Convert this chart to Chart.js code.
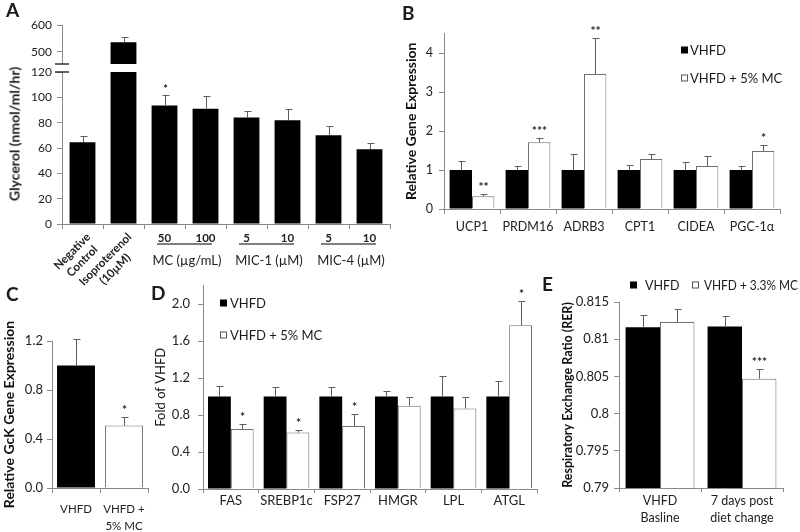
<!DOCTYPE html>
<html>
<head>
<meta charset="utf-8">
<script src="https://cdn.jsdelivr.net/npm/chart.js@4.4.1/dist/chart.umd.min.js"></script>
<style>
  html, body { margin: 0; padding: 0; background: #fff; }
  #fig { position: relative; width: 800px; height: 532px; overflow: hidden; font-family: Lato, "Open Sans", sans-serif; color: #1a1a1a; }
  #fig canvas { position: absolute; left: 0; top: 0; }
  .tag { position: absolute; font-weight: bold; font-size: 19px; line-height: 19px; }
  .ytitle { position: absolute; font-weight: bold; font-size: 14px; white-space: nowrap; transform: translate(-50%, -50%) rotate(-90deg); }
</style>
</head>
<body>
<div id="fig">
  <canvas id="aTop" width="800" height="532"></canvas>
  <canvas id="aLow" width="800" height="532"></canvas>
  <canvas id="chartB" width="800" height="532"></canvas>
  <canvas id="chartC" width="800" height="532"></canvas>
  <canvas id="chartD" width="800" height="532"></canvas>
  <canvas id="chartE" width="800" height="532"></canvas>

  <div class="tag" style="left:6px;top:0px">A</div>
  <div class="tag" style="left:402px;top:3px">B</div>
  <div class="tag" style="left:6px;top:284px">C</div>
  <div class="tag" style="left:151px;top:283px">D</div>
  <div class="tag" style="left:542px;top:274px">E</div>

  <div class="ytitle" style="left:14px;top:134px">Glycerol (nmol/ml/hr)</div>
</div>
<script>
  // Panel A - glycerol release
  const aLabels = [['Negative', 'Control'], ['Isoproterenol', '(10µM)'], '50', '100', '5', '10', '5', '10'];
  const aGroups = ['MC (µg/mL)', 'MIC-1 (µM)', 'MIC-4 (µM)'];
  const aGroupIndex = [[2, 3], [4, 5], [6, 7]];
  const aMeans = [64.5, 536, 93.5, 91, 84, 82, 70, 59];
  const aErr = [5, 20, 8, 10, 5.5, 9, 7.5, 5];
  const aStars = ['', '', '*', '', '', '', '', ''];
  const aTicksLow = [0, 20, 40, 60, 80, 100, 120];
  const aTicksHigh = [500, 600];

  // Panel B - thermogenic genes
  const bGenes = ['UCP1', 'PRDM16', 'ADRB3', 'CPT1', 'CIDEA', 'PGC-1α'];
  const bVhfd = [1, 1, 1, 1, 1, 1];
  const bVhfdErr = [0.23, 0.1, 0.42, 0.13, 0.2, 0.1];
  const bMc = [0.33, 1.71, 3.46, 1.28, 1.1, 1.49];
  const bMcErr = [0.05, 0.12, 0.92, 0.14, 0.26, 0.14];
  const bStars = ['**', '***', '**', '', '', '*'];
  const bTicks = [0, 1, 2, 3, 4];

  // Panel C - GcK
  const cGroups = [['VHFD'], ['VHFD +', '5% MC']];
  const cValues = [1.0, 0.51];
  const cErr = [0.22, 0.07];
  const cStars = ['', '*'];
  const cTicks = [0, 0.4, 0.8, 1.2];

  // Panel D - lipid genes
  const dGenes = ['FAS', 'SREBP1c', 'FSP27', 'HMGR', 'LPL', 'ATGL'];
  const dVhfd = [1, 1, 1, 1, 1, 1];
  const dVhfdErr = [0.11, 0.1, 0.1, 0.06, 0.22, 0.17];
  const dMc = [0.65, 0.61, 0.68, 0.9, 0.87, 1.77];
  const dMcErr = [0.05, 0.03, 0.13, 0.1, 0.12, 0.26];
  const dStars = ['*', '*', '*', '', '', '*'];
  const dTicks = [0, 0.4, 0.8, 1.2, 1.6, 2.0];

  // Panel E - RER
  const eGroups = [['VHFD', 'Basline'], ['7 days post', 'diet change']];
  const eVhfd = [0.8116, 0.8117];
  const eVhfdErr = [0.0016, 0.0014];
  const eMc = [0.8123, 0.8047];
  const eMcErr = [0.0017, 0.0013];
  const eStars = ['', '***'];
  const eTicks = [0.79, 0.795, 0.8, 0.805, 0.81, 0.815];

  const FONT = 'Lato, "Open Sans", sans-serif';
  const AXIS = '#8a8a8a';
  const TXT = '#222';
  const EDGE = '#707070';

  Chart.defaults.font.family = FONT;
  Chart.defaults.color = TXT;
  Chart.defaults.animation = false;
  Chart.defaults.responsive = false;
  Chart.defaults.plugins.tooltip.enabled = false;
  Chart.defaults.plugins.legend.display = false;

  // every canvas covers the page, so padding puts the plot area at page coords
  function frame(L, T, R, B, yW, xH) {
    return { left: L - yW, top: T, right: 800 - R, bottom: 532 - B - xH };
  }

  function yAxis(o) {
    return {
      min: o.min, max: o.max,
      border: { color: AXIS },
      grid: { display: true, drawOnChartArea: false, color: AXIS, tickLength: 5 },
      ticks: { font: { size: o.size }, padding: o.pad, color: TXT, callback: o.fmt || (v => v) },
      afterBuildTicks: s => { s.ticks = o.ticks.map(v => ({ value: v })); },
      afterFit: s => { s.width = o.width; },
      title: o.title ? {
        display: true, text: o.title, color: '#111', padding: 0,
        font: { size: o.titleSize || 13, weight: o.titleWeight || 'bold' }
      } : { display: false }
    };
  }

  function xAxis(o) {
    return {
      display: o.display !== false,
      border: { color: AXIS },
      grid: { display: true, drawOnChartArea: false, color: AXIS, tickLength: o.tl || 5, offset: true },
      ticks: {
        display: o.labels !== false, color: TXT, padding: o.pad || 0,
        font: { size: o.size || 12, lineHeight: o.lh || 1.2 },
        maxRotation: 0, autoSkip: false
      },
      afterFit: s => { s.height = o.height; }
    };
  }

  const errorBars = {
    id: 'errorBars',
    afterDatasetsDraw(chart, args, opts) {
      const { ctx, chartArea: a } = chart;
      const y = chart.scales.y;
      ctx.save();
      if (opts.clip) {
        ctx.beginPath();
        ctx.rect(a.left, a.top, a.right - a.left, a.bottom - a.top);
        ctx.clip();
      }
      ctx.strokeStyle = '#5e5e5e';
      ctx.lineWidth = 1;
      ctx.fillStyle = '#222';
      ctx.font = 'bold ' + (opts.starSize || 12) + 'px ' + FONT;
      ctx.textAlign = 'center';
      ctx.textBaseline = 'bottom';
      chart.data.datasets.forEach((ds, di) => {
        chart.getDatasetMeta(di).data.forEach((bar, i) => {
          const err = ds.errors ? ds.errors[i] : 0;
          const y0 = y.getPixelForValue(ds.data[i]);
          const y1 = Math.round(y.getPixelForValue(ds.data[i] + err)) + 0.5;
          const x = Math.round(bar.x) + 0.5;
          if (err) {
            ctx.beginPath();
            ctx.moveTo(x, y0); ctx.lineTo(x, y1);
            ctx.moveTo(x - 3, y1); ctx.lineTo(x + 4, y1);
            ctx.stroke();
          }
          if (ds.stars && ds.stars[i]) ctx.fillText(ds.stars[i], x, y1 - 1);
        });
      });
      ctx.restore();
    }
  };

  const axisBreak = {
    id: 'axisBreak',
    afterDraw(chart, args, opts) {
      const { ctx, chartArea: a } = chart;
      const yy = opts.edge === 'top' ? a.top : a.bottom;
      ctx.save();
      ctx.strokeStyle = '#333';
      ctx.lineWidth = 1.5;
      ctx.beginPath();
      ctx.moveTo(a.left - 7, yy); ctx.lineTo(a.left + 7, yy);
      ctx.stroke();
      ctx.restore();
    }
  };

  const aXLabels = {
    id: 'aXLabels',
    afterDraw(chart) {
      const { ctx } = chart;
      const x = chart.scales.x;
      const base = chart.chartArea.bottom;
      ctx.save();
      ctx.fillStyle = TXT;
      ctx.font = 'bold 11.5px ' + FONT;
      aLabels.forEach((lab, i) => {
        const cx = x.getPixelForValue(i);
        if (Array.isArray(lab)) {
          ctx.save();
          ctx.translate(cx + 2, base + 7);
          ctx.rotate(-Math.PI / 4);
          const w = Math.max(...lab.map(t => ctx.measureText(t).width));
          ctx.textAlign = 'center';
          ctx.textBaseline = 'top';
          lab.forEach((t, k) => ctx.fillText(t, -w / 2, k * 14));
          ctx.restore();
        } else {
          ctx.textAlign = 'center';
          ctx.textBaseline = 'middle';
          ctx.fillText(lab, cx, base + 14);
        }
      });
      ctx.strokeStyle = '#555';
      ctx.lineWidth = 1.5;
      ctx.font = '13px ' + FONT;
      ctx.textAlign = 'center';
      ctx.textBaseline = 'middle';
      aGroupIndex.forEach(([i0, i1], g) => {
        const c = (x.getPixelForValue(i0) + x.getPixelForValue(i1)) / 2;
        ctx.beginPath();
        ctx.moveTo(c - 28, base + 20); ctx.lineTo(c + 27, base + 20);
        ctx.stroke();
        ctx.fillText(aGroups[g], c + 2, base + 37);
      });
      ctx.restore();
    }
  };

  // small square-key legend built from the dataset labels
  const boxLegend = {
    id: 'boxLegend',
    afterDraw(chart, args, opts) {
      const { ctx } = chart;
      ctx.save();
      ctx.font = (opts.size || 13) + 'px ' + FONT;
      ctx.textBaseline = 'middle';
      chart.data.datasets.forEach((ds, i) => {
        const [bx, by] = opts.at[i];
        ctx.fillStyle = ds.backgroundColor;
        ctx.fillRect(bx, by, 7, 7);
        if (ds.borderWidth) {
          ctx.strokeStyle = '#555';
          ctx.lineWidth = 1;
          ctx.strokeRect(bx + 0.5, by + 0.5, 6, 6);
        }
        ctx.fillStyle = '#1a1a1a';
        ctx.fillText(ds.label, bx + opts.gap[i], by + 4, opts.maxW ? opts.maxW[i] : undefined);
      });
      ctx.restore();
    }
  };

  const flat = l => [].concat(l).join(' ');

  // A, upper part of the broken axis
  new Chart(document.getElementById('aTop'), {
    type: 'bar',
    data: {
      labels: aLabels.map(flat),
      datasets: [{ data: aMeans, errors: aErr, stars: aStars, backgroundColor: '#000', clip: 0, categoryPercentage: 1, barPercentage: 0.63 }]
    },
    options: {
      layout: { padding: frame(62, 25, 390, 64, 40, 0) },
      scales: {
        x: { display: false, afterFit: s => { s.height = 0; } },
        y: yAxis({ min: 455, max: 600, ticks: aTicksHigh, width: 40, size: 12, pad: 5 })
      },
      plugins: { errorBars: { clip: true, starSize: 11 }, axisBreak: { edge: 'bottom' } }
    },
    plugins: [errorBars, axisBreak]
  });

  // A, lower part
  new Chart(document.getElementById('aLow'), {
    type: 'bar',
    data: {
      labels: aLabels.map(flat),
      datasets: [{ data: aMeans, errors: aErr, stars: aStars, backgroundColor: '#000', clip: 0, categoryPercentage: 1, barPercentage: 0.63 }]
    },
    options: {
      layout: { padding: frame(62, 72, 390, 224, 40, 60) },
      scales: {
        x: xAxis({ labels: false, height: 60 }),
        y: yAxis({ min: 0, max: 120, ticks: aTicksLow, width: 40, size: 12, pad: 5 })
      },
      plugins: { errorBars: { clip: true, starSize: 11 }, axisBreak: { edge: 'top' } }
    },
    plugins: [errorBars, axisBreak, aXLabels]
  });

  // B
  new Chart(document.getElementById('chartB'), {
    type: 'bar',
    data: {
      labels: bGenes,
      datasets: [
        { label: 'VHFD', data: bVhfd, errors: bVhfdErr, backgroundColor: '#000', borderWidth: 0, categoryPercentage: 0.8, barPercentage: 1 },
        { label: 'VHFD + 5% MC', data: bMc, errors: bMcErr, stars: bStars, backgroundColor: '#fff', borderColor: EDGE, borderWidth: 1, categoryPercentage: 0.8, barPercentage: 1 }
      ]
    },
    options: {
      layout: { padding: frame(444, 33.5, 780, 209, 41, 30) },
      scales: {
        x: xAxis({ size: 12.5, pad: 5, height: 30 }),
        y: yAxis({ min: 0, max: 4.5, ticks: bTicks, width: 41, size: 12.5, pad: 6, title: 'Relative Gene Expression', titleSize: 14 })
      },
      plugins: { boxLegend: { at: [[681, 46.5], [681, 74.5]], gap: [9, 9] } }
    },
    plugins: [errorBars, boxLegend]
  });

  // C
  new Chart(document.getElementById('chartC'), {
    type: 'bar',
    data: {
      labels: cGroups,
      datasets: [{
        data: cValues, errors: cErr, stars: cStars,
        backgroundColor: ['#000', '#fff'], borderColor: ['#000', EDGE], borderWidth: [0, 1],
        categoryPercentage: 1, barPercentage: 0.79
      }]
    },
    options: {
      layout: { padding: frame(52, 341, 148, 488, 51, 44) },
      scales: {
        x: xAxis({ size: 11.5, lh: 17 / 11.5, pad: 8, height: 44 }),
        y: yAxis({ min: 0, max: 1.2, ticks: cTicks, width: 51, size: 13, pad: 4, fmt: v => v.toFixed(1), title: 'Relative GcK Gene Expression', titleSize: 14 })
      }
    },
    plugins: [errorBars]
  });

  // D
  new Chart(document.getElementById('chartD'), {
    type: 'bar',
    data: {
      labels: dGenes,
      datasets: [
        { label: 'VHFD', data: dVhfd, errors: dVhfdErr, backgroundColor: '#000', borderWidth: 0, categoryPercentage: 0.82, barPercentage: 1 },
        { label: 'VHFD + 5% MC', data: dMc, errors: dMcErr, stars: dStars, backgroundColor: '#fff', borderColor: EDGE, borderWidth: 1, categoryPercentage: 0.82, barPercentage: 1 }
      ]
    },
    options: {
      layout: { padding: frame(203, 285.5, 537, 489, 50, 43) },
      scales: {
        x: xAxis({ size: 13, lh: 1, tl: 4, pad: 1, height: 43 }),
        y: yAxis({ min: 0, max: 2.2, ticks: dTicks, width: 50, size: 13, pad: 8, fmt: v => v.toFixed(1), title: 'Fold of VHFD', titleSize: 13, titleWeight: 'normal' })
      },
      plugins: { boxLegend: { at: [[220, 299.5], [220, 331.5]], gap: [10, 10] } }
    },
    plugins: [errorBars, boxLegend]
  });

  // E
  new Chart(document.getElementById('chartE'), {
    type: 'bar',
    data: {
      labels: eGroups,
      datasets: [
        { label: 'VHFD', data: eVhfd, errors: eVhfdErr, backgroundColor: '#000', borderWidth: 0, categoryPercentage: 0.84, barPercentage: 1 },
        { label: 'VHFD + 3.3% MC', data: eMc, errors: eMcErr, stars: eStars, backgroundColor: '#fff', borderColor: EDGE, borderWidth: 1, categoryPercentage: 0.84, barPercentage: 1 }
      ]
    },
    options: {
      layout: { padding: frame(619, 302, 783, 488, 59, 44) },
      scales: {
        x: xAxis({ size: 12.5, lh: 17 / 12.5, tl: 4, pad: 0, height: 44 }),
        y: yAxis({ min: 0.79, max: 0.815, ticks: eTicks, width: 59, size: 13, pad: 5, fmt: v => String(+v.toFixed(3)), title: 'Respiratory Exchange Ratio (RER)', titleSize: 12.5 })
      },
      plugins: { boxLegend: { at: [[630, 281.5], [692, 281.5]], gap: [15, 12], maxW: [60, 94], size: 12.5 } }
    },
    plugins: [errorBars, boxLegend]
  });
</script>
</body>
</html>
